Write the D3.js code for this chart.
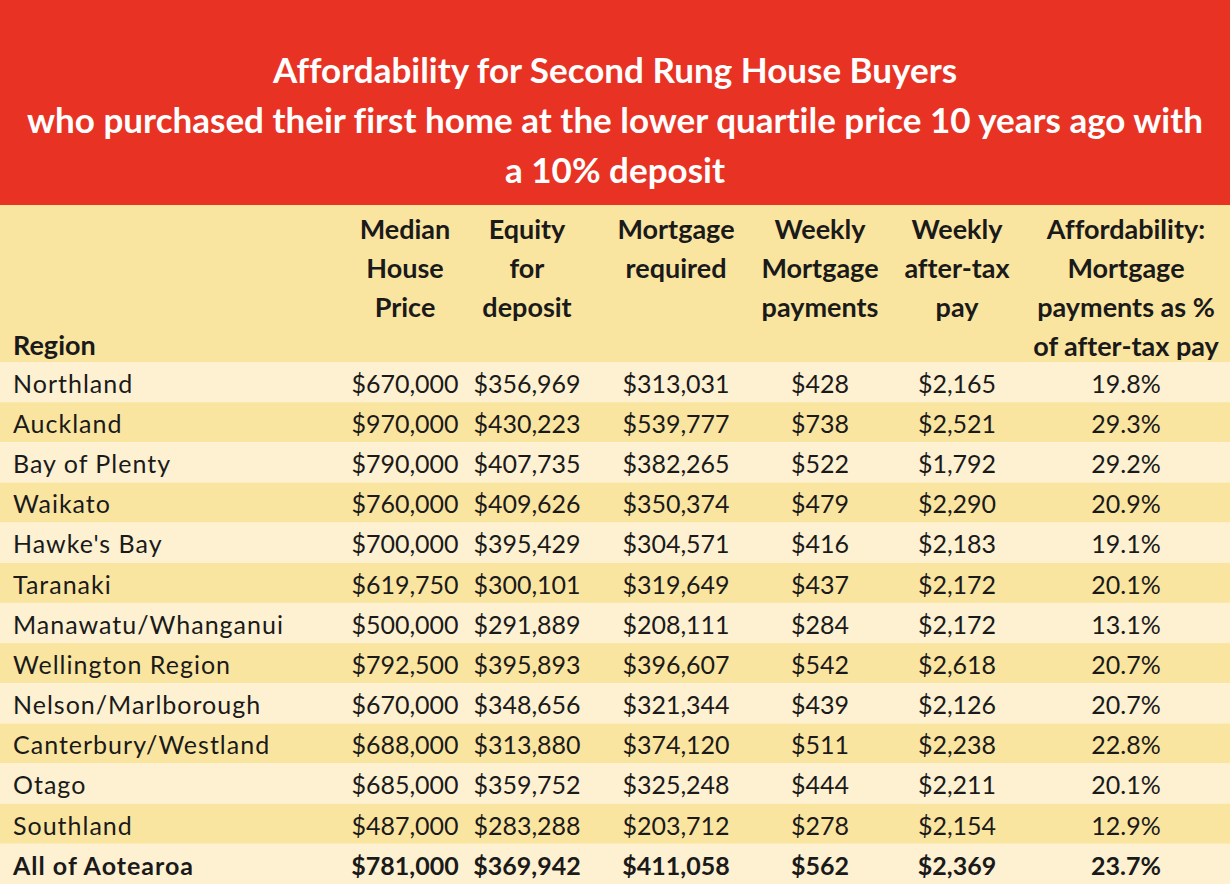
<!DOCTYPE html>
<html>
<head>
<meta charset="utf-8">
<script src="https://cdn.jsdelivr.net/npm/d3@7"></script>
<style>
  body { margin: 0; background: #fff; }
  text { font-family: Lato, "Open Sans", sans-serif; font-variant-ligatures: none; }
</style>
</head>
<body>
<div class="chart"></div>
<script>
// table content
var titleLines = [
  "Affordability for Second Rung House Buyers",
  "who purchased their first home at the lower quartile price 10 years ago with",
  "a 10% deposit"
];
var headers = [
  ["Region"],
  ["Median", "House", "Price"],
  ["Equity", "for", "deposit"],
  ["Mortgage", "required"],
  ["Weekly", "Mortgage", "payments"],
  ["Weekly", "after-tax", "pay"],
  ["Affordability:", "Mortgage", "payments as %", "of after-tax pay"]
];
var regions = ["Northland", "Auckland", "Bay of Plenty", "Waikato", "Hawke's Bay", "Taranaki",
  "Manawatu/Whanganui", "Wellington Region", "Nelson/Marlborough", "Canterbury/Westland",
  "Otago", "Southland", "All of Aotearoa"];
var medianPrice = [670000, 970000, 790000, 760000, 700000, 619750, 500000, 792500, 670000, 688000, 685000, 487000, 781000];
var equity = [356969, 430223, 407735, 409626, 395429, 300101, 291889, 395893, 348656, 313880, 359752, 283288, 369942];
var mortgage = [313031, 539777, 382265, 350374, 304571, 319649, 208111, 396607, 321344, 374120, 325248, 203712, 411058];
var weeklyPayment = [428, 738, 522, 479, 416, 437, 284, 542, 439, 511, 444, 278, 562];
var weeklyPay = [2165, 2521, 1792, 2290, 2183, 2172, 2172, 2618, 2126, 2238, 2211, 2154, 2369];
var affordability = [19.8, 29.3, 29.2, 20.9, 19.1, 20.1, 13.1, 20.7, 20.7, 22.8, 20.1, 12.9, 23.7];

var svgWidth = 1230;
var svgHeight = 884;
var titleHeight = 205;
var headerHeight = 157;

var svg = d3.select(".chart")
  .append("svg")
  .attr("width", svgWidth)
  .attr("height", svgHeight);

// title band
svg.append("rect")
  .attr("width", svgWidth)
  .attr("height", titleHeight)
  .attr("fill", "#e83324");

svg.selectAll(".title")
  .data(titleLines)
  .enter()
  .append("text")
  .attr("class", "title")
  .attr("x", svgWidth / 2)
  .attr("y", function(d, i) { return 71 + i * 50; })
  .attr("dy", "0.35em")
  .attr("text-anchor", "middle")
  .attr("font-size", "35px")
  .attr("font-weight", "bold")
  .attr("fill", "#fff")
  .text(function(d) { return d; });

// header band
svg.append("rect")
  .attr("y", titleHeight)
  .attr("width", svgWidth)
  .attr("height", headerHeight)
  .attr("fill", "#fae5a0");

var fmtMoney = d3.format("$,");
var rows = regions.map(function(r, i) {
  return [r, fmtMoney(medianPrice[i]), fmtMoney(equity[i]), fmtMoney(mortgage[i]),
    fmtMoney(weeklyPayment[i]), fmtMoney(weeklyPay[i]), d3.format(".1f")(affordability[i]) + "%"];
});

var yScale = d3.scaleBand()
  .domain(d3.range(rows.length))
  .range([titleHeight + headerHeight, svgHeight]);

// column centres (first column is left aligned)
var colX = [13, 405, 527, 676, 820, 957, 1126];

svg.selectAll(".stripe")
  .data(rows)
  .enter()
  .append("rect")
  .attr("class", "stripe")
  .attr("y", function(d, i) { return yScale(i); })
  .attr("width", svgWidth)
  .attr("height", yScale.bandwidth())
  .attr("fill", function(d, i) { return i % 2 == 0 ? "#fdf1d2" : "#fae5a0"; });

// header text
headers.forEach(function(lines, c) {
  svg.selectAll(".h" + c)
    .data(lines)
    .enter()
    .append("text")
    .attr("x", colX[c])
    .attr("y", function(d, i) { return c == 0 ? 346 : 230 + i * 39; })
    .attr("dy", "0.35em")
    .attr("text-anchor", c == 0 ? "start" : "middle")
    .attr("font-size", "27px")
    .attr("font-weight", "bold")
    .attr("fill", "#1a1a1a")
    .text(function(d) { return d; });
});

// body
var rowG = svg.selectAll(".row")
  .data(rows)
  .enter()
  .append("g")
  .attr("transform", function(d, i) { return "translate(0," + (yScale(i) + yScale.bandwidth() / 2 + 2) + ")"; });

rowG.selectAll("text")
  .data(function(d, i) { return d.map(function(v) { return { v: v, last: i == rows.length - 1 }; }); })
  .enter()
  .append("text")
  .attr("x", function(d, c) { return colX[c]; })
  .attr("dy", "0.35em")
  .attr("text-anchor", function(d, c) { return c == 0 ? "start" : "middle"; })
  .attr("font-size", "25px")
  .attr("letter-spacing", function(d, c) { return c == 0 ? "1px" : "0px"; })
  .attr("font-weight", function(d) { return d.last ? "bold" : "normal"; })
  .attr("fill", "#1a1a1a")
  .text(function(d) { return d.v; });
</script>
</body>
</html>
